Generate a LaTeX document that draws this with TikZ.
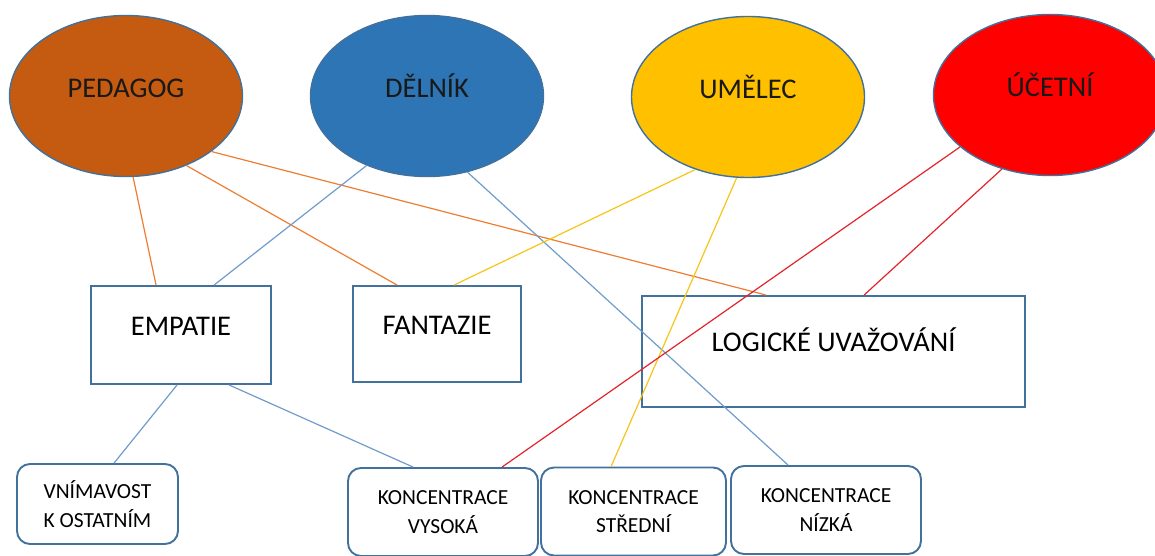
\documentclass[tikz,border=0pt]{standalone}
\usepackage{fontspec}
\setmainfont{Carlito}
\usetikzlibrary{shapes.geometric}

\definecolor{pedc}{HTML}{C55A11}
\definecolor{delc}{HTML}{2E75B6}
\definecolor{umlc}{HTML}{FFC000}
\definecolor{ucec}{HTML}{FF0000}
\definecolor{edge}{HTML}{41719C}
\definecolor{lorange}{HTML}{ED7D31}
\definecolor{lblue}{HTML}{6E9CCB}
\definecolor{lyellow}{HTML}{F5C518}
\definecolor{lred}{HTML}{E3242B}

\begin{document}
\begin{tikzpicture}[x=1pt, y=-1pt]
\tikzset{
  ell/.style={ellipse, draw=edge, line width=1.4pt, inner sep=0pt,
    minimum width=233pt, minimum height=161pt,
    font=\fontsize{28.5}{32}\selectfont, text=black!90,
    text height=18pt, text depth=15pt},
  box/.style={rectangle, draw=edge, line width=1.9pt, inner sep=0pt,
    font=\fontsize{28.5}{32}\selectfont,
    text height=18pt, text depth=18pt},
  sbox/.style={rectangle, rounded corners=13pt, draw=edge, line width=1.9pt,
    inner sep=0pt, minimum width=190pt, minimum height=88pt,
    align=center, font=\fontsize{21.5}{28.5}\selectfont},
  ln/.style={line width=1.2pt}}
\useasboundingbox (0,0) rectangle (1155,555);

% ---------------- professions ----------------
\node[ell, fill=pedc] (ped) at (126,96)  {PEDAGOG};
\node[ell, fill=delc] (del) at (427,96)  {DĚLNÍK};
\node[ell, fill=umlc] (uml) at (748,97)  {UMĚLEC};
\node[ell, fill=ucec] (uce) at (1050,95) {ÚČETNÍ};

% ---------------- abilities ----------------
\node[box, minimum width=180pt, minimum height=98pt]  (emp) at (181,335)   {EMPATIE};
\node[box, minimum width=168pt, minimum height=96pt]  (fan) at (437,334)   {FANTAZIE};
\node[box, minimum width=383pt, minimum height=111pt] (log) at (833.5,351.5) {LOGICKÉ UVAŽOVÁNÍ};

% ---------------- bottom row ----------------
\node[sbox, minimum width=161pt, minimum height=80pt] (vni) at (97.5,504) {VNÍMAVOST\\K OSTATNÍM};
\node[sbox] (vys) at (443,512)   {KONCENTRACE\\VYSOKÁ};
\node[sbox, minimum width=185pt] (str) at (633.5,511.5) {KONCENTRACE\\STŘEDNÍ};
\node[sbox] (niz) at (826,510)   {KONCENTRACE\\NÍZKÁ};

% ---------------- connections ----------------
\draw[ln, lorange] (ped.-85) -- ([xshift=66]emp.north west);
\draw[ln, lorange] (ped.-49) -- ([xshift=45]fan.north west);
\draw[ln, lorange] (ped.-33) -- ([xshift=125]log.north west);

\draw[ln, lblue] (del.-131) -- ([xshift=124]emp.north west);
\draw[ln, lblue] (del.-62)  -- ([xshift=58]niz.north west);
\draw[ln, lblue] ([xshift=87]emp.south west)  -- ([xshift=98]vni.north west);
\draw[ln, lblue] ([xshift=139]emp.south west) -- ([xshift=66]vys.north west);

\draw[ln, lyellow] (uml.-126) -- ([xshift=102]fan.north west);
\draw[ln, lyellow] (uml.-98)  -- ([xshift=71]str.north west);

\draw[ln, lred] (uce.-150) -- ([xshift=155]vys.north west);
\draw[ln, lred] (uce.-123) -- ([xshift=223]log.north west);
\end{tikzpicture}
\end{document}
